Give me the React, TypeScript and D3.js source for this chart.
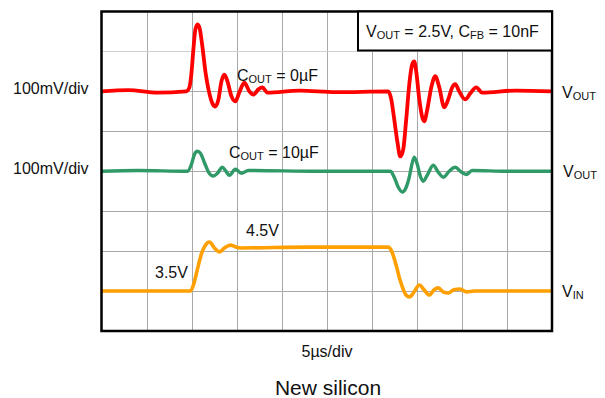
import React, { useEffect, useRef } from "react";
import * as d3 from "d3";

// time in µs (5 µs/div, 10 divisions)
const redTime = [0, 3.0, 6.2, 9.4, 9.76, 9.98, 10.2, 10.42, 10.65, 10.87, 11.2, 11.53, 11.92, 12.31, 12.64, 12.98, 13.31, 13.64, 13.98, 14.42, 14.86, 15.3, 15.86, 16.41, 16.86, 17.41, 17.86, 18.41, 22.0, 26.0, 31.83, 32.16, 32.49, 32.83, 33.16, 33.49, 33.82, 34.16, 34.49, 34.71, 34.93, 35.27, 35.6, 35.82, 36.16, 36.6, 37.04, 37.49, 38.04, 38.48, 38.93, 39.26, 39.7, 40.37, 40.93, 41.59, 42.25, 46.0, 50];
// deviation in mV (100 mV/div)
const redMv = [0, 3, -3, 0, 10, 45, 105, 155, 168, 160, 112, 50, 0, -30, -38, -20, 25, 42, 25, -12, -25, -2, 22, 0, -8, 5, 10, -3, 2, -2, 0, -20, -70, -125, -163, -145, -70, 18, 68, 75, 50, -20, -65, -75, -45, 10, 38, 10, -40, -20, 10, 18, 0, -20, -5, 10, -3, 2, 0];

const greenTime = [0, 4.0, 9.55, 9.98, 10.31, 10.65, 10.98, 11.42, 11.87, 12.42, 12.87, 13.42, 13.75, 14.2, 14.86, 15.53, 16.3, 24.0, 32.05, 32.49, 32.94, 33.38, 33.82, 34.16, 34.38, 34.71, 35.04, 35.38, 35.71, 36.15, 36.82, 37.37, 37.93, 38.59, 39.26, 39.93, 40.48, 41.14, 45.0, 50];
const greenMv = [0, 2, 0, 17, 42, 50, 45, 22, -2, -12, -5, 10, 2, -10, 5, -5, 2, 0, 0, -15, -40, -52, -40, -15, 10, 35, 18, -12, -25, -10, 15, -2, -15, 0, 10, -2, -8, 2, 0, 0];

const vinTime = [0, 5.0, 9.87, 10.2, 10.65, 11.09, 11.53, 11.98, 12.53, 13.09, 13.64, 14.3, 14.97, 15.4, 23.0, 31.8, 32.2, 32.7, 33.1, 33.4, 33.8, 34.2, 34.6, 35.3, 35.8, 36.4, 36.9, 37.4, 37.9, 38.5, 39.1, 39.8, 40.5, 41.4, 46.0, 50];
const vinV = [3.5, 3.5, 3.5, 3.65, 4.05, 4.43, 4.65, 4.73, 4.58, 4.48, 4.58, 4.65, 4.6, 4.58, 4.6, 4.6, 4.5, 4.15, 3.8, 3.6, 3.4, 3.35, 3.45, 3.65, 3.53, 3.4, 3.53, 3.58, 3.48, 3.45, 3.53, 3.55, 3.48, 3.5, 3.5, 3.5];

const xDivs = d3.range(0, 11);
const yDivs = d3.range(0, 9);

const W = 605;
const H = 398;

export default function App() {
  const ref = useRef<SVGSVGElement | null>(null);

  useEffect(() => {
    const svg = d3.select(ref.current);
    svg.selectAll("*").remove();

    const left = 101.5, right = 552, top = 11.5, bottom = 331;
    const x = d3.scaleLinear().domain([0, 50]).range([left, right]);
    const yDiv = d3.scaleLinear().domain([0, 8]).range([bottom, top]);
    const font = "'Liberation Sans', Arial, sans-serif";

    // grid
    const g = svg.append("g");
    g.selectAll("line.v").data(xDivs.slice(1, -1)).enter().append("line")
      .attr("x1", (d) => Math.round(x(d * 5)) + 0.5).attr("x2", (d) => Math.round(x(d * 5)) + 0.5)
      .attr("y1", top).attr("y2", bottom)
      .attr("stroke", "#a8a8a8").attr("stroke-width", 1);
    g.selectAll("line.h").data(yDivs.slice(1, -1)).enter().append("line")
      .attr("y1", (d) => Math.round(yDiv(d)) + 0.5).attr("y2", (d) => Math.round(yDiv(d)) + 0.5)
      .attr("x1", left).attr("x2", right)
      .attr("stroke", (d) => (d === 7 ? "#d0d0d0" : "#a8a8a8")).attr("stroke-width", 1);

    const yRed = (mv: number) => yDiv(6 + mv / 100);
    const yGreen = (mv: number) => yDiv(4 + mv / 100);
    const yVin = (v: number) => yDiv(1 + (v - 3.5));

    const curve = d3.curveMonotoneX;
    const draw = (ts: number[], vs: number[], yf: (v: number) => number, color: string, sw: number) => {
      const pts = ts.map((t, i) => [t, vs[i]] as [number, number]);
      const line = d3.line<[number, number]>().x((d) => x(d[0])).y((d) => yf(d[1])).curve(curve);
      svg.append("path").attr("d", line(pts) as string).attr("fill", "none")
        .attr("stroke", color).attr("stroke-width", sw).attr("stroke-linejoin", "round");
    };
    draw(vinTime, vinV, yVin, "#ff9f00", 3.6);
    draw(greenTime, greenMv, yGreen, "#2f9a68", 3.4);
    draw(redTime, redMv, yRed, "#ff0000", 3.8);

    // frame
    svg.append("rect").attr("x", left).attr("y", top).attr("width", right - left).attr("height", bottom - top)
      .attr("fill", "none").attr("stroke", "#000").attr("stroke-width", 2.5);

    // legend box
    svg.append("rect").attr("x", 358).attr("y", top).attr("width", right - 358).attr("height", 39)
      .attr("fill", "#fff").attr("stroke", "#000").attr("stroke-width", 2);

    const text = (xx: number, yy: number, parts: [string, boolean][], size = 16, anchor = "start") => {
      const t = svg.append("text").attr("x", xx).attr("y", yy).attr("font-family", font)
        .attr("font-size", size).attr("fill", "#111").attr("text-anchor", anchor);
      let sub = false;
      parts.forEach(([s, isSub]) => {
        const ts = t.append("tspan").text(s);
        if (isSub) { ts.attr("font-size", 11).attr("dy", sub ? 0 : 2); sub = true; }
        else { ts.attr("dy", sub ? -2 : 0); sub = false; }
      });
    };

    text(366, 37, [["V", false], ["OUT", true], [" = 2.5V, C", false], ["FB", true], [" = 10nF", false]]);
    text(13, 93.5, [["100mV/div", false]]);
    text(13, 173.5, [["100mV/div", false]]);
    text(562, 98, [["V", false], ["OUT", true]]);
    text(563, 177, [["V", false], ["OUT", true]]);
    text(562, 297, [["V", false], ["IN", true]]);
    text(237, 81, [["C", false], ["OUT", true], [" = 0µF", false]]);
    text(229, 158, [["C", false], ["OUT", true], [" = 10µF", false]]);
    text(246, 236, [["4.5V", false]]);
    text(155, 278, [["3.5V", false]]);
    text(327, 357, [["5µs/div", false]], 16, "middle");
    text(328, 395, [["New silicon", false]], 21, "middle");
  }, []);

  return (
    <svg ref={ref} width={W} height={H} style={{ position: "absolute", left: 0, top: 0, background: "#fff" }} />
  );
}
